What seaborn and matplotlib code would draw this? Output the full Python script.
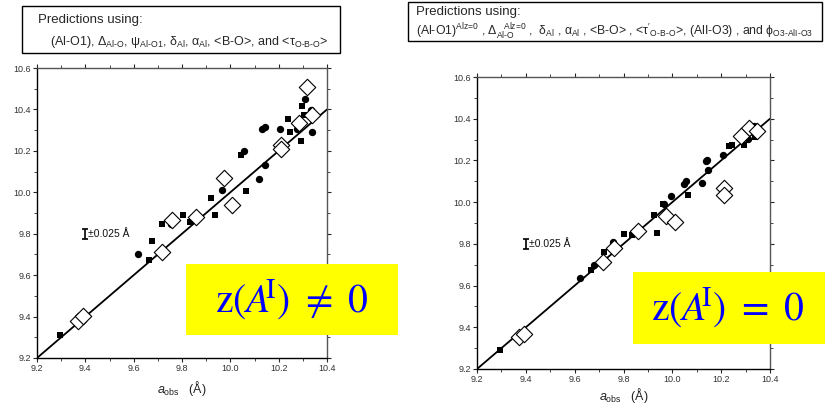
import numpy as np
import pandas as pd
import seaborn as sns
import matplotlib.pyplot as plt
from matplotlib.patches import Rectangle
from matplotlib.ticker import MultipleLocator

# ---------------------------------------------------------------
# data (a_obs vs a_calc, in Angstrom)

# left panel: z(A^I) != 0
left_circle_x = [10.310, 10.335, 10.337, 10.133, 10.143, 10.205, 10.277, 10.055, 10.145,
                 10.119, 9.965, 9.755, 9.618]
left_circle_y = [10.452, 10.398, 10.289, 10.306, 10.313, 10.306, 10.305, 10.200, 10.131,
                 10.066, 10.011, 9.845, 9.703]
left_square_x = [10.295, 10.305, 10.239, 10.247, 10.291, 10.046, 10.063, 9.921, 9.935,
                 9.803, 9.719, 9.833, 9.676, 9.665, 9.295]
left_square_y = [10.418, 10.374, 10.355, 10.292, 10.247, 10.181, 10.008, 9.971, 9.889,
                 9.892, 9.845, 9.858, 9.766, 9.674, 9.310]
left_diamond_x = [10.316, 10.283, 10.339, 10.211, 10.209, 9.975, 10.006, 9.760, 9.858,
                  9.717, 9.368, 9.390]
left_diamond_y = [10.508, 10.334, 10.373, 10.229, 10.208, 10.068, 9.939, 9.866, 9.879,
                  9.711, 9.381, 9.405]

# right panel: z(A^I) = 0
right_circle_x = [10.334, 10.311, 10.207, 10.136, 10.143, 10.148, 10.121, 10.049, 10.057,
                  9.993, 9.964, 9.756, 9.678, 9.622]
right_circle_y = [10.366, 10.302, 10.227, 10.195, 10.203, 10.154, 10.090, 10.088, 10.101,
                  10.029, 9.989, 9.808, 9.699, 9.638]
right_square_x = [10.337, 10.293, 10.244, 10.232, 10.065, 9.923, 9.961, 9.937, 9.834,
                  9.804, 9.721, 9.667, 9.296]
right_square_y = [10.312, 10.272, 10.272, 10.269, 10.032, 9.939, 9.989, 9.850, 9.842,
                  9.845, 9.762, 9.675, 9.291]
right_diamond_x = [10.314, 10.282, 10.347, 10.211, 10.211, 9.976, 10.009, 9.861, 9.760,
                   9.717, 9.372, 9.394]
right_diamond_y = [10.357, 10.315, 10.339, 10.067, 10.032, 9.933, 9.904, 9.864, 9.779,
                   9.712, 9.354, 9.370]

# 1:1 line and error-bar legend
line_x = [9.2, 10.4]
line_y = [9.2, 10.4]
err_x, err_y, err_size = 9.4, 9.8, 0.025

x_ticks = [9.2, 9.4, 9.6, 9.8, 10.0, 10.2, 10.4]
y_ticks = [9.2, 9.4, 9.6, 9.8, 10.0, 10.2, 10.4, 10.6]

header_left_1 = "Predictions using:"
header_left_2 = (r"(Al-O1), $\mathrm{\Delta}_{\text{Al-O}}$, $\mathrm{\psi}_{\text{Al-O1}}$, "
                 r"$\mathrm{\delta}_{\text{Al}}$, $\mathrm{\alpha}_{\text{Al}}$, <B-O>, "
                 r"and <$\mathrm{\tau}_{\text{O-B-O}}$>")
header_right_1 = "Predictions using:"
header_right_2 = (r"(Al-O1)$^{\text{Alz=0}}$ , $\mathrm{\Delta}_{\text{Al-O}}^{\quad\text{Alz=0}}$ ,  "
                  r"$\mathrm{\delta}_{\text{Al}}$ , $\mathrm{\alpha}_{\text{Al}}$ , <B-O> , "
                  r"<$\mathrm{\tau}'_{\text{O-B-O}}$>, (AlI-O3) , and $\mathrm{\phi}_{\text{O3-AlI-O3}}$")
label_left = r"$\mathrm{z}(\mathit{A}\!{}^{\mathrm{I}})\ \neq\ 0$"
label_right = r"$\mathrm{z}(\mathit{A}\!{}^{\mathrm{I}})\ =\ 0$"

# ---------------------------------------------------------------
sns.set_style("ticks")
plt.rcParams['font.family'] = ['Liberation Sans', 'DejaVu Sans']
plt.rcParams['mathtext.fontset'] = 'custom'
plt.rcParams['mathtext.rm'] = 'Liberation Sans'
plt.rcParams['mathtext.it'] = 'Liberation Sans:italic'
plt.rcParams['mathtext.bf'] = 'Liberation Sans:bold'

fig = plt.figure(figsize=(8.26, 4.07), dpi=100)
ax_l = fig.add_axes([0.0448, 0.1204, 0.3511, 0.7125])
ax_r = fig.add_axes([0.5775, 0.0934, 0.3547, 0.7174])


def draw_panel(ax, cx, cy, sx, sy, dx, dy, xlabelpad):
    sns.lineplot(x=line_x, y=line_y, ax=ax, color='black', linewidth=1.3, zorder=2)
    sns.scatterplot(x=cx, y=cy, ax=ax, marker='o', s=28, color='black',
                    edgecolor='black', linewidth=0, zorder=3)
    sns.scatterplot(x=sx, y=sy, ax=ax, marker='s', s=22, color='black',
                    edgecolor='black', linewidth=0, zorder=3)
    sns.scatterplot(x=dx, y=dy, ax=ax, marker='D', s=70, color='white',
                    edgecolor='black', linewidth=0.8, zorder=4)
    ax.errorbar([err_x], [err_y], yerr=[err_size], fmt='none', ecolor='black',
                elinewidth=1.2, capsize=2.5, capthick=1.2)
    ax.text(err_x + 0.012, err_y, u"\u00b10.025 \u00c5", fontsize=7.5,
            va='center', ha='left', color='#111111')

    ax.set_xlim(9.2, 10.4)
    ax.set_ylim(9.2, 10.6)
    ax.set_xticks(x_ticks)
    ax.set_yticks(y_ticks)
    ax.set_xticklabels([f"{t:.1f}" for t in x_ticks])
    ax.set_yticklabels([f"{t:.1f}" for t in y_ticks])
    ax.xaxis.set_minor_locator(MultipleLocator(0.1))
    ax.yaxis.set_minor_locator(MultipleLocator(0.1))
    ax.tick_params(axis='both', which='major', labelsize=6.5, labelcolor='#333333',
                   direction='out', length=3, width=0.8, pad=1.5)
    ax.tick_params(axis='both', which='minor', direction='out', length=2, width=0.6)
    ax.tick_params(top=True, right=True, which='both')
    for side in ['left', 'bottom']:
        ax.spines[side].set_color('black')
        ax.spines[side].set_linewidth(1.0)
    for side in ['top', 'right']:
        ax.spines[side].set_visible(True)
        ax.spines[side].set_color('#555555')
        ax.spines[side].set_linewidth(1.0)
    ax.set_xlabel(r"$a_{\mathrm{obs}}$   (Å)", fontsize=9, labelpad=xlabelpad, color='#222222')
    ax.set_ylabel("")


draw_panel(ax_l, left_circle_x, left_circle_y, left_square_x, left_square_y,
           left_diamond_x, left_diamond_y, 4)
draw_panel(ax_r, right_circle_x, right_circle_y, right_square_x, right_square_y,
           right_diamond_x, right_diamond_y, 1)

# header boxes
W, H = 826.0, 407.0


def box(x0, y0, x1, y1, fc, ec, lw):
    fig.patches.append(Rectangle((x0 / W, 1 - y1 / H), (x1 - x0) / W, (y1 - y0) / H,
                                 transform=fig.transFigure, facecolor=fc, edgecolor=ec,
                                 linewidth=lw, zorder=5))


box(22, 6, 340, 53, 'white', 'black', 1.0)
fig.text(38 / W, 1 - 20 / H, header_left_1, fontsize=9.5, va='center', ha='left', zorder=6)
fig.text(50 / W, 1 - 42 / H, header_left_2, fontsize=9, va='center', ha='left', zorder=6)

box(408, 2, 822, 41, 'white', 'black', 1.0)
fig.text(416 / W, 1 - 12 / H, header_right_1, fontsize=9.5, va='center', ha='left', zorder=6)
fig.text(416 / W, 1 - 32 / H, header_right_2, fontsize=8.8, va='center', ha='left', zorder=6)

# yellow labels
box(186, 264, 398, 335, '#ffff00', 'none', 0)
fig.text(292 / W, 1 - 300 / H, label_left, fontsize=28.5, color='#0000ff', ha='center',
         va='center', math_fontfamily='stix', zorder=6)
box(633, 272, 825, 344, '#ffff00', 'none', 0)
fig.text(728 / W, 1 - 308 / H, label_right, fontsize=28.5, color='#0000ff', ha='center',
         va='center', math_fontfamily='stix', zorder=6)

fig.savefig("out.png", dpi=100)
